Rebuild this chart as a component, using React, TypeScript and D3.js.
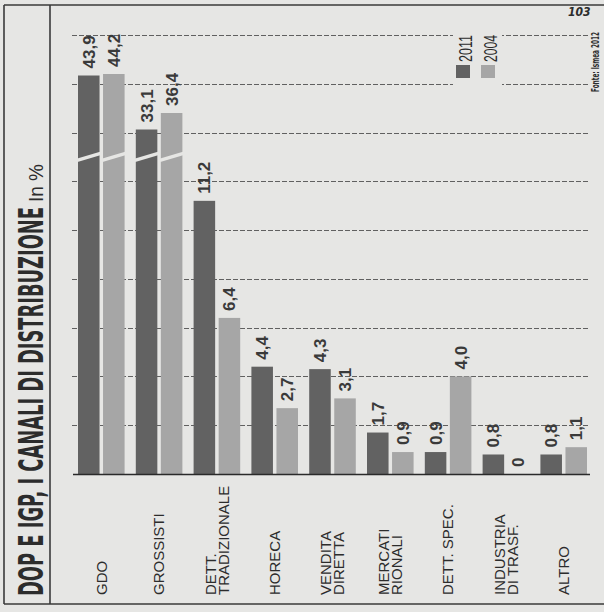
import React from "react";
import * as d3 from "d3";

const categories = [
  "GDO",
  "GROSSISTI",
  "DETT.|TRADIZIONALE",
  "HORECA",
  "VENDITA|DIRETTA",
  "MERCATI|RIONALI",
  "DETT. SPEC.",
  "INDUSTRIA|DI TRASF.",
  "ALTRO",
];
const seriesNames = ["2011", "2004"];
const values2011 = [43.9, 33.1, 11.2, 4.4, 4.3, 1.7, 0.9, 0.8, 0.8];
const values2004 = [44.2, 36.4, 6.4, 2.7, 3.1, 0.9, 4.0, 0, 1.1];
const gridTicks = [2, 4, 6, 8, 10, 12, 14, 16, 18];

const W = 604;
const H = 612;
const BG = "#e6e6e4";
const DARK = "#626262";
const LIGHT = "#a6a6a6";
const INK = "#2c2c2c";
const GRID = "#606060";
const SANS = "'Liberation Sans', Arial, Helvetica, sans-serif";
const NARROW = "'Liberation Sans Narrow', 'DejaVu Sans Condensed', 'Liberation Sans', sans-serif";

const fmt = (v: number) => (v === 0 ? "0" : v.toFixed(1).replace(".", ","));

export default function App() {
  const x0 = d3.scaleBand<string>().domain(categories).range([78, 587]).paddingInner(0.194).paddingOuter(0);
  const x1 = d3.scaleBand<string>().domain(seriesNames).range([0, x0.bandwidth()]).paddingInner(0.14);
  const y = d3.scaleLinear().domain([0, 18]).range([474, 35]);
  const yBreak = d3.scaleLinear().domain([30, 45]).range([145, 70]);
  const maxLinear = 18;
  const slashY = y(13);
  const top = (v: number) => (v > maxLinear ? yBreak(v) : y(v));
  const color = d3.scaleOrdinal<string, string>().domain(seriesNames).range([DARK, LIGHT]);
  const seriesValues: Record<string, number[]> = { "2011": values2011, "2004": values2004 };

  const bars: any[] = [];
  categories.forEach((c, i) => {
    seriesNames.forEach((s) => {
      const v = seriesValues[s][i];
      bars.push({ c, s, v, x: (x0(c) as number) + (x1(s) as number), w: x1.bandwidth(), t: top(v) });
    });
  });

  const lineH = 13;
  const capH = 10.7;

  return (
    <svg width={W} height={H} style={{ position: "absolute", left: 0, top: 0 }} xmlns="http://www.w3.org/2000/svg">
      <rect x={0} y={0} width={W} height={H} fill={BG} />
      {/* frame */}
      <line x1={4} y1={5} x2={W} y2={5} stroke="#3a3a3a" strokeWidth={1.6} />
      <line x1={4} y1={604} x2={W} y2={604} stroke="#3a3a3a" strokeWidth={1.6} />
      <line x1={4} y1={5} x2={4} y2={604} stroke="#3a3a3a" strokeWidth={1.6} />
      <line x1={50} y1={5} x2={50} y2={604} stroke="#3a3a3a" strokeWidth={1.6} />

      {/* title */}
      <text
        transform={`translate(43,596) rotate(-90)`}
        fontFamily={NARROW}
        fontWeight="bold"
        fontSize={33}
        fill={INK}
        textLength={389}
        lengthAdjust="spacingAndGlyphs"
      >
        DOP E IGP, I CANALI DI DISTRIBUZIONE
      </text>
      <text
        transform={`translate(43,202) rotate(-90)`}
        fontFamily={SANS}
        fontSize={20}
        fill={INK}
        textLength={38}
        lengthAdjust="spacingAndGlyphs"
      >
        In %
      </text>

      {/* page number */}
      <text x={568} y={16} fontFamily={NARROW} fontWeight="bold" fontStyle="italic" fontSize={12} fill={INK}>
        103
      </text>

      {/* gridlines */}
      <g fill="none">
        {gridTicks.map((t) => {
          const gy = Math.round(y(t)) + 0.5;
          return (
            <path key={t} d={`M72,${gy}H588`} stroke={GRID} strokeWidth={1.2} strokeDasharray="5,2" />
          );
        })}
      </g>

      {/* legend */}
      <rect x={453} y={27} width={49} height={60} fill={BG} />
      {seriesNames.map((s, i) => (
        <g key={s}>
          <rect x={456 + i * 25} y={65} width={14} height={13} fill={color(s)} />
          <text
            transform={`translate(${471.5 + i * 25},62) rotate(-90)`}
            fontFamily={SANS}
            fontSize={18}
            fill={INK}
            textLength={27}
            lengthAdjust="spacingAndGlyphs"
          >
            {s}
          </text>
        </g>
      ))}

      {/* source */}
      <text
        transform={`translate(599,92) rotate(-90)`}
        fontFamily={NARROW}
        fontWeight="bold"
        fontSize={11}
        fill={INK}
        textLength={60}
        lengthAdjust="spacingAndGlyphs"
      >
        Fonte: Ismea 2012
      </text>

      {/* bars */}
      {bars.map((b) => (
        <g key={b.c + b.s}>
          <rect x={b.x} y={b.t} width={b.w} height={Math.max(0, y(0) - b.t)} fill={color(b.s)} />
          {b.v > maxLinear && (
            <line
              x1={b.x - 1}
              x2={b.x + b.w + 1}
              y1={slashY + 3.5}
              y2={slashY - 3.5}
              stroke={BG}
              strokeWidth={3.5}
            />
          )}
          <text
            transform={`translate(${b.x + b.w / 2 + 6},${b.t - 7}) rotate(-90)`}
            fontFamily={SANS}
            fontWeight="bold"
            fontSize={17}
            fill="#3a3a3a"
          >
            {fmt(b.v)}
          </text>
        </g>
      ))}

      {/* baseline */}
      <line x1={73} x2={590} y1={y(0) + 0.5} y2={y(0) + 0.5} stroke="#2a2a2a" strokeWidth={1.6} />

      {/* category labels */}
      {categories.map((c) => {
        const lines = c.split("|");
        const cx = (x0(c) as number) + x0.bandwidth() / 2;
        return (
          <g key={c}>
            {lines.map((ln, i) => (
              <text
                key={i}
                transform={`translate(${cx + capH / 2 + (i - (lines.length - 1) / 2) * lineH},595) rotate(-90)`}
                fontFamily={SANS}
                fontSize={15}
                fill={INK}
              >
                {ln}
              </text>
            ))}
          </g>
        );
      })}
    </svg>
  );
}
